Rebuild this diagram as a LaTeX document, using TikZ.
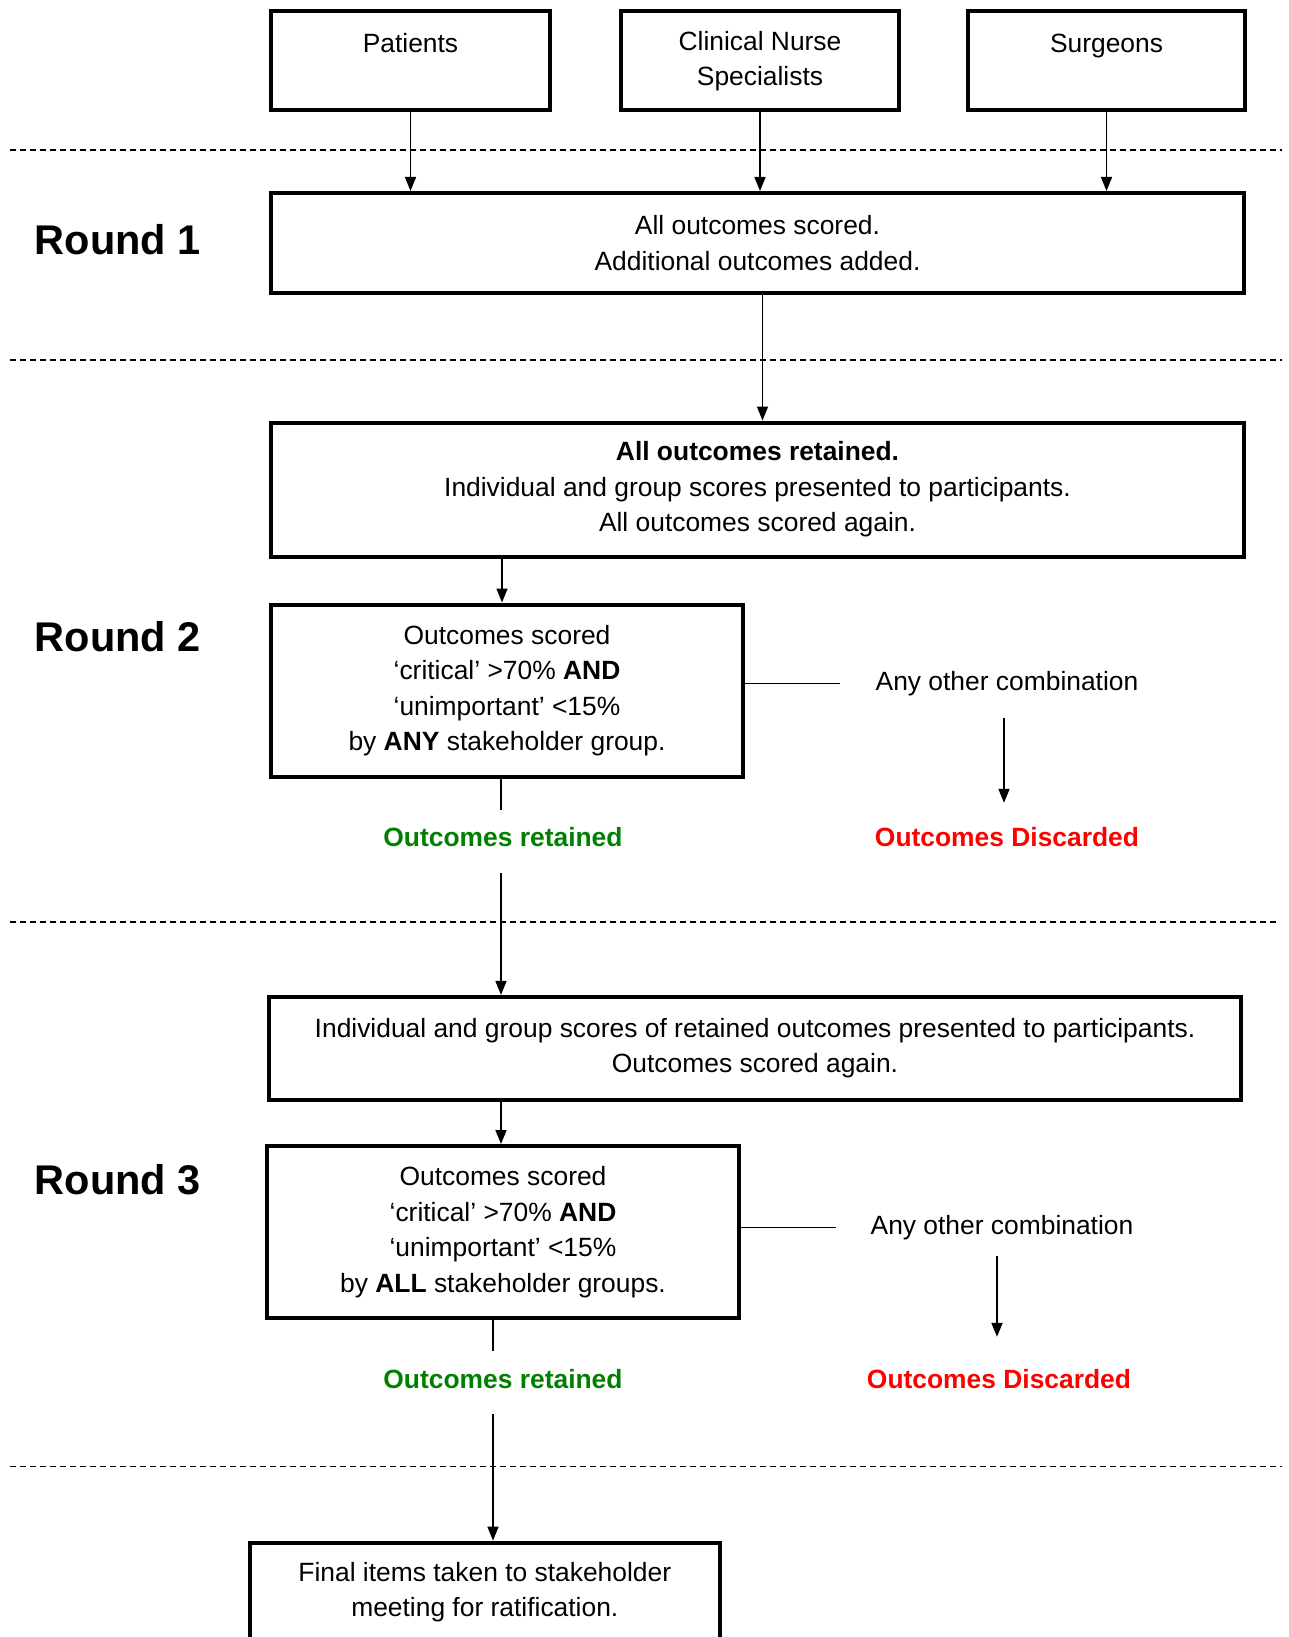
\documentclass[tikz,border=0pt]{standalone}
\usepackage{fontspec}
\setmainfont{Liberation Sans}
\usetikzlibrary{arrows.meta}
\definecolor{okgreen}{RGB}{0,128,0}
\definecolor{nored}{RGB}{255,0,0}
\begin{document}
\begin{tikzpicture}[x=1pt,y=-1pt,
  box/.style={draw, line width=4pt, inner sep=0pt, align=center, font=\fontsize{26.4}{35.5}\selectfont},
  txt/.style={inner sep=0pt, text height=19pt, text depth=5.5pt, font=\fontsize{26.4}{35.5}\selectfont},
  txtb/.style={inner sep=0pt, text height=19pt, text depth=5.5pt, font=\fontsize{26.4}{35.5}\selectfont\bfseries},
  rnd/.style={inner sep=0pt, anchor=base west, font=\fontsize{41.5}{45}\selectfont\bfseries},
  ln/.style={line width=1.6pt},
  arr/.style={line width=1.6pt, -{Triangle[length=14pt,width=11pt]}},
  sep/.style={line width=1.8pt, dash pattern=on 6pt off 4pt}]
\useasboundingbox (0,0) rectangle (1288,1637);

% separators
\draw[sep] (10.4,150.3) -- (1281.8,150.3);
\draw[sep] (10.4,360.1) -- (1281.8,360.1);
\draw[sep] (10.4,921.7) -- (1279.7,921.7);
\draw[sep] (10.4,1466.5) -- (1281.8,1466.5);

% round labels
\node[rnd] (rd1) at (34.5,254.9) {Round 1};
\node[rnd] (rd2) at (34.5,651.6) {Round 2};
\node[rnd] (rd3) at (34.5,1194.4) {Round 3};

% boxes
\node[box, minimum width=279, minimum height=99] (pat) at (410.5,61) {Patients\\\mbox{}};
\node[box, minimum width=278, minimum height=99] (cns) at (760,61) {Clinical Nurse\\Specialists};
\node[box, minimum width=277, minimum height=99] (sur) at (1106.5,61) {Surgeons\\\mbox{}};
\node[box, minimum width=973, minimum height=100] (r1) at (757.5,243) {All outcomes scored.\\Additional outcomes added.};
\node[box, minimum width=973, minimum height=134] (r2) at (757.5,489.5) {\textbf{All outcomes retained.}\\Individual and group scores presented to participants.\\All outcomes scored again.};
\node[box, minimum width=472, minimum height=172] (c2) at (507,690.5) {Outcomes scored\\‘critical’ >70\% \textbf{AND}\\‘unimportant’ <15\%\\by \textbf{ANY} stakeholder group.};
\node[txt] (any1) at (1007,683.6) {Any other combination};
\node[txtb, text=nored] (disc1) at (1007,840) {Outcomes Discarded};
\node[txtb, text=okgreen] (ret1) at (503,840) {Outcomes retained};
\node[box, minimum width=972, minimum height=103] (p3) at (755,1048.4) {Individual and group scores of retained outcomes presented to participants.\\Outcomes scored again.};
\node[box, minimum width=472, minimum height=172] (c3) at (503,1232) {Outcomes scored\\‘critical’ >70\% \textbf{AND}\\‘unimportant’ <15\%\\by \textbf{ALL} stakeholder groups.};
\node[txt] (any2) at (1002,1227.4) {Any other combination};
\node[txtb, text=nored] (disc2) at (999,1382) {Outcomes Discarded};
\node[txtb, text=okgreen] (ret2) at (503,1382) {Outcomes retained};
\node[box, anchor=north, minimum width=470.5, minimum height=165] (fin) at (484.8,1540.6) {Final items taken to stakeholder\\meeting for ratification.\\\mbox{}\\\mbox{}};

% connectors
\draw[arr] (pat.south) -- (pat.south |- r1.north);
\draw[arr] (cns.south) -- (cns.south |- r1.north);
\draw[arr] (sur.south) -- (sur.south |- r1.north);
\draw[arr] ([xshift=5pt]r1.south) -- ([xshift=5pt]r2.north);
\draw[arr] ([xshift=-5pt]c2.north |- r2.south) -- ([xshift=-5pt]c2.north);
\draw[ln] (c2.east |- any1) -- ([xshift=-35pt]any1.west);
\draw[arr, shorten <=22pt, shorten >=24.75pt] ([xshift=-3pt]any1.south) -- ([xshift=-3pt]disc1.north);
\draw[ln, shorten >=17.75pt] ([xshift=-2pt]ret1.north |- c2.south) -- ([xshift=-2pt]ret1.north);
\draw[arr, shorten <=20.75pt] ([xshift=-2pt]ret1.south) -- ([xshift=-2pt]ret1.south |- p3.north);
\draw[arr] ([xshift=-2pt]c3.north |- p3.south) -- ([xshift=-2pt]c3.north);
\draw[ln] (c3.east |- any2) -- ([xshift=-34.5pt]any2.west);
\draw[arr, shorten <=16pt, shorten >=32.75pt] ([xshift=-5pt]any2.south) -- ([xshift=-2pt]disc2.north);
\draw[ln, shorten >=19pt] ([xshift=-10pt]ret2.north |- c3.south) -- ([xshift=-10pt]ret2.north);
\draw[arr, shorten <=20pt] ([xshift=-10pt]ret2.south) -- ([xshift=-10pt]ret2.south |- fin.north);
\end{tikzpicture}
\end{document}
